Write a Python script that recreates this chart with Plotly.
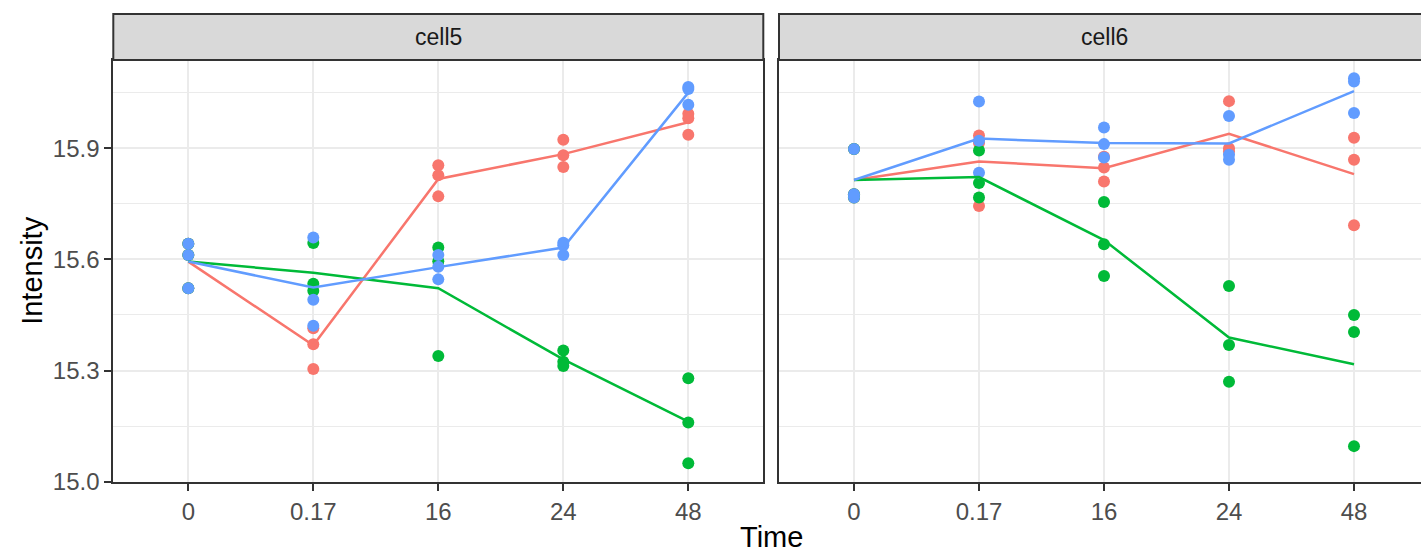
import plotly.graph_objects as go

# ---------------- data ----------------
times = ["0", "0.17", "16", "24", "48"]
groups = ["group1", "group2", "group3"]
colors = ["#F8766D", "#00BA38", "#619CFF"]

# cell5 replicate points (per time point)
cell5_g1 = [[15.642, 15.612, 15.522], [15.414, 15.371, 15.304], [15.854, 15.827, 15.770], [15.923, 15.881, 15.849], [15.993, 15.981, 15.936]]
cell5_g2 = [[15.642, 15.612, 15.522], [15.644, 15.534, 15.515], [15.632, 15.595, 15.339], [15.354, 15.324, 15.312], [15.279, 15.160, 15.050]]
cell5_g3 = [[15.642, 15.612, 15.522], [15.659, 15.491, 15.421], [15.612, 15.580, 15.546], [15.645, 15.638, 15.612], [16.065, 16.060, 16.017]]
# cell5 mean lines
cell5_g1_mean = [15.594, 15.368, 15.817, 15.884, 15.970]
cell5_g2_mean = [15.594, 15.564, 15.522, 15.330, 15.162]
cell5_g3_mean = [15.594, 15.524, 15.579, 15.632, 16.050]

# cell6 replicate points
cell6_g1 = [[15.898, 15.776, 15.767], [15.934, 15.914, 15.744], [15.877, 15.848, 15.810], [16.027, 15.900, 15.891], [15.928, 15.869, 15.692]]
cell6_g2 = [[15.898, 15.776, 15.767], [15.894, 15.806, 15.767], [15.755, 15.641, 15.555], [15.528, 15.369, 15.270], [15.450, 15.404, 15.096]]
cell6_g3 = [[15.898, 15.776, 15.767], [16.026, 15.920, 15.834], [15.956, 15.911, 15.875], [15.987, 15.882, 15.869], [16.089, 16.080, 15.995]]
# cell6 mean lines
cell6_g1_mean = [15.814, 15.864, 15.846, 15.939, 15.830]
cell6_g2_mean = [15.814, 15.822, 15.652, 15.389, 15.317]
cell6_g3_mean = [15.814, 15.926, 15.914, 15.913, 16.054]

panels = ["cell5", "cell6"]

# ---------------- layout geometry ----------------
W, H = 1421, 557
FONT = "Liberation Sans, Arial, sans-serif"
p1_x = (113.3 / W, 763.3 / W)
p2_x = (779.0 / W, 1.0)
y_dom = (1 - 481.7 / H, 1 - 60.0 / H)
strip_y = (1 - 60.0 / H, 1 - 14.0 / H)
px_per_unit = 650.0 / 5.2
p2_range_end = 0.4 + (W - 779.0) / px_per_unit

fig = go.Figure()
xpos = list(range(1, len(times) + 1))

panel_data = [
    ("x", "y", [cell5_g1, cell5_g2, cell5_g3], [cell5_g1_mean, cell5_g2_mean, cell5_g3_mean]),
    ("x2", "y2", [cell6_g1, cell6_g2, cell6_g3], [cell6_g1_mean, cell6_g2_mean, cell6_g3_mean]),
]

for xa, ya, pts, means in panel_data:
    for gi, g in enumerate(groups):
        xs, ys = [], []
        for ti, vals in enumerate(pts[gi]):
            for v in vals:
                xs.append(xpos[ti])
                ys.append(v)
        fig.add_trace(go.Scatter(x=xs, y=ys, mode="markers", xaxis=xa, yaxis=ya, name=g,
                                 marker=dict(color=colors[gi], size=12, line=dict(width=0)),
                                 showlegend=False))
    for gi, g in enumerate(groups):
        fig.add_trace(go.Scatter(x=xpos, y=means[gi], mode="lines", xaxis=xa, yaxis=ya, name=g,
                                 line=dict(color=colors[gi], width=2.5), showlegend=False))

grid = "#EBEBEB"
border = "#333333"
tickfont = dict(family=FONT, size=24, color="#4D4D4D")

xcommon = dict(tickmode="array", tickvals=xpos, ticktext=times, showgrid=True, gridcolor=grid,
               gridwidth=2, zeroline=False, ticks="outside", ticklen=7, tickwidth=2,
               tickcolor=border, tickfont=tickfont, showline=True, linecolor=border,
               linewidth=2, mirror=True, automargin=False)
ycommon = dict(range=[15.0, 16.138], domain=list(y_dom), tickmode="linear", tick0=15.0, dtick=0.3,
               showgrid=True, gridcolor=grid, gridwidth=2, zeroline=False,
               minor=dict(tickmode="linear", tick0=15.0, dtick=0.15, showgrid=True,
                          gridcolor=grid, gridwidth=1, ticks=""),
               showline=True, linecolor=border, linewidth=2, automargin=False)

fig.update_layout(
    width=W, height=H, margin=dict(l=0, r=0, t=0, b=0, autoexpand=False),
    paper_bgcolor="white", plot_bgcolor="white", showlegend=False,
    xaxis=dict(xcommon, domain=list(p1_x), range=[0.4, 5.6], anchor="y"),
    xaxis2=dict(xcommon, domain=list(p2_x), range=[0.4, p2_range_end], anchor="y2"),
    yaxis=dict(ycommon, anchor="x", ticks="outside", ticklen=7, tickwidth=2, tickcolor=border,
               tickfont=tickfont, tickformat=".1f", mirror=True),
    yaxis2=dict(ycommon, anchor="x2", ticks="", showticklabels=False, mirror=False),
)

# facet strips
shapes = []
annotations = []
for (x0, x1) in [p1_x, (p2_x[0], 1.03)]:
    shapes.append(dict(type="rect", xref="paper", yref="paper", x0=x0, x1=x1,
                       y0=strip_y[0], y1=strip_y[1], fillcolor="#D9D9D9",
                       line=dict(color=border, width=2), layer="above"))
for (x0, x1), label in zip([p1_x, (p2_x[0], (779.0 + 650.0) / W)], panels):
    annotations.append(dict(text=label, xref="paper", yref="paper", x=(x0 + x1) / 2,
                            y=(strip_y[0] + strip_y[1]) / 2, showarrow=False,
                            xanchor="center", yanchor="middle",
                            font=dict(family=FONT, size=23, color="#1A1A1A")))

annotations.append(dict(text="Time", xref="paper", yref="paper", x=771.5 / W, y=1 - 537.0 / H,
                        showarrow=False, xanchor="center", yanchor="middle",
                        font=dict(family=FONT, size=29, color="black")))
annotations.append(dict(text="Intensity", xref="paper", yref="paper", x=32.0 / W,
                        y=(y_dom[0] + y_dom[1]) / 2, showarrow=False, textangle=-90,
                        xanchor="center", yanchor="middle",
                        font=dict(family=FONT, size=29, color="black")))

fig.update_layout(shapes=shapes, annotations=annotations)
fig.write_html("out.html", config={"displayModeBar": False},
               post_script="document.body.style.margin='0px';")
